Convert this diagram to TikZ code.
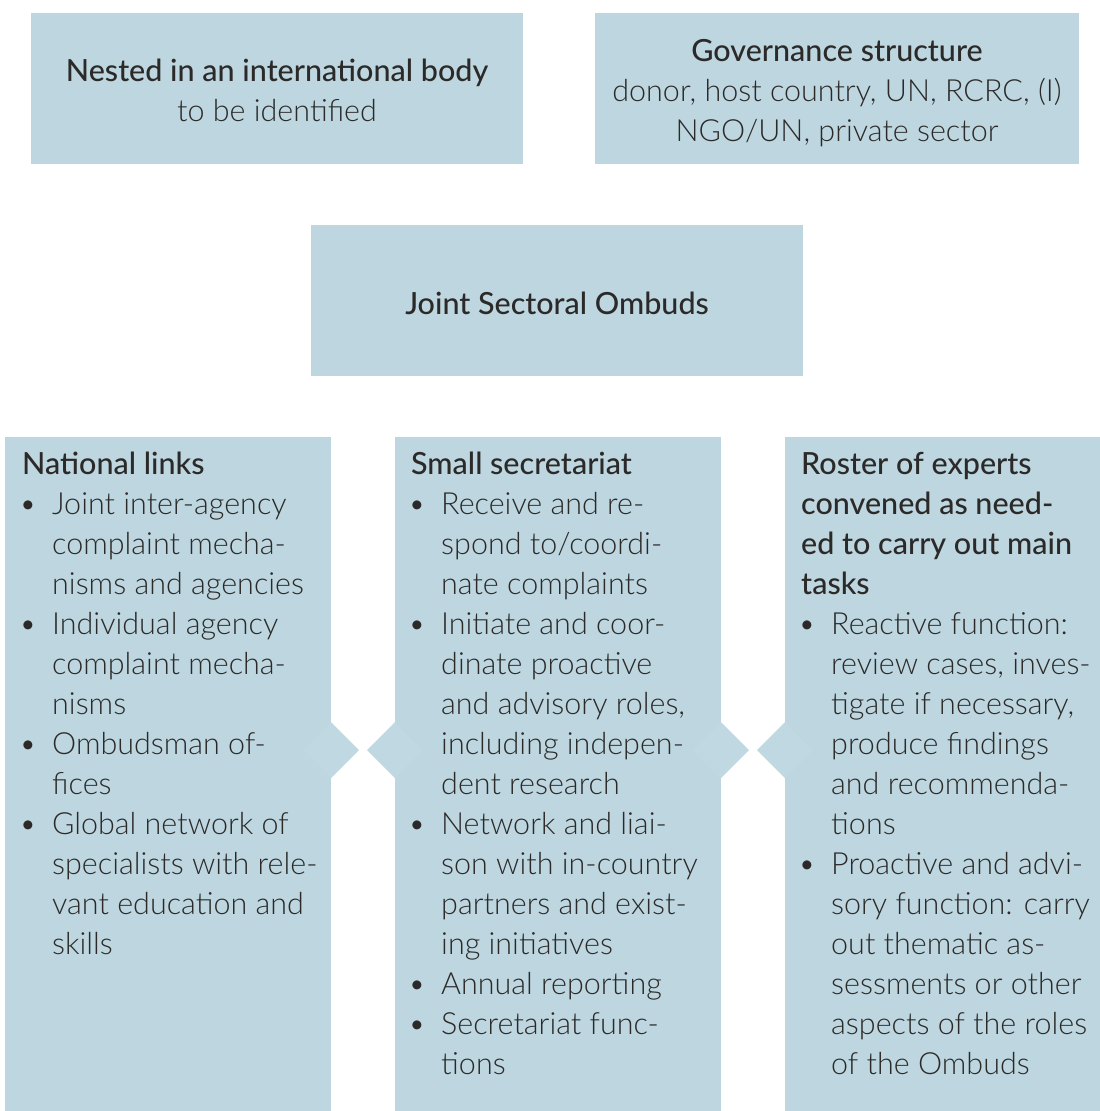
\documentclass[tikz,border=0pt]{standalone}
\usepackage{fontspec}
\setmainfont{Lato Light}
\newfontfamily\headfont{Lato Medium}
\usepackage{tikz}
\usetikzlibrary{calc}
\definecolor{boxblue}{HTML}{BDD6DF}
\definecolor{tipblue}{HTML}{C0D8E1}
\definecolor{inkgray}{HTML}{2B2A29}
\newcommand{\itm}{\makebox[30pt][l]{\hspace*{-3pt}\textbullet}}
\newcommand{\ind}{\hspace*{30pt}}

\tikzset{
  panel/.style={fill=boxblue,draw=none},
  paneltext/.style={align=center,inner sep=0pt,text=inkgray,
    font=\fontsize{30.5}{40}\selectfont},
  coltext/.style={align=left,inner sep=0pt,anchor=north west,text=inkgray,
    font=\fontsize{30.5}{40}\selectfont},
  tip/.style={fill=tipblue,draw=none}
}

\begin{document}
\begin{tikzpicture}[x=1pt,y=-1pt]
\useasboundingbox (0,0) rectangle (1100,1111);

% boxes
\fill[panel] (31,13) rectangle (523,164);
\fill[panel] (595,13) rectangle (1079,164);
\fill[panel] (311,225) rectangle (803,376);
\fill[panel] (5,437) rectangle (331,1111);
\fill[panel] (395,437) rectangle (721,1111);
\fill[panel] (785,437) rectangle (1100,1111);

% pointers between the columns
\foreach \px in {331,395,721,785}{
  \fill[tip] (\px,750) ++(-28,0) -- ++(28,-28) -- ++(28,28) -- ++(-28,28) -- cycle;
}

\node[paneltext] (nested) at (277,90) {{\headfont Nested in an international body}\\to be identified};
\node[paneltext] (gov) at (837,93) {{\headfont Governance structure}\\donor, host country, UN, RCRC, (I)\\NGO/UN, private sector};
\node[paneltext] (ombuds) at (557,303) {\headfont Joint Sectoral Ombuds};

\node[coltext] (national) at (22,452) {{\headfont National links}\\
\itm Joint inter-agency\\
\ind complaint mecha-\\
\ind nisms and agencies\\
\itm Individual agency\\
\ind complaint mecha-\\
\ind nisms\\
\itm Ombudsman of-\\
\ind fices\\
\itm Global network of\\
\ind specialists with rele-\\
\ind vant education and\\
\ind skills};

\node[coltext] (secretariat) at (411,452) {{\headfont Small secretariat}\\
\itm Receive and re-\\
\ind spond to/coordi-\\
\ind nate complaints\\
\itm Initiate and coor-\\
\ind dinate proactive\\
\ind and advisory roles,\\
\ind including indepen-\\
\ind dent research\\
\itm Network and liai-\\
\ind son with in-country\\
\ind partners and exist-\\
\ind ing initiatives\\
\itm Annual reporting\\
\itm Secretariat func-\\
\ind tions};

\node[coltext] (roster) at (801,452) {{\headfont Roster of experts}\\
{\headfont convened as need-}\\
{\headfont ed to carry out main}\\
{\headfont tasks}\\
\itm Reactive function:\\
\ind review cases, inves-\\
\ind tigate if necessary,\\
\ind produce findings\\
\ind and recommenda-\\
\ind tions\\
\itm Proactive and advi-\\
\ind sory function: carry\\
\ind out thematic as-\\
\ind sessments or other\\
\ind aspects of the roles\\
\ind of the Ombuds};
\end{tikzpicture}
\end{document}
